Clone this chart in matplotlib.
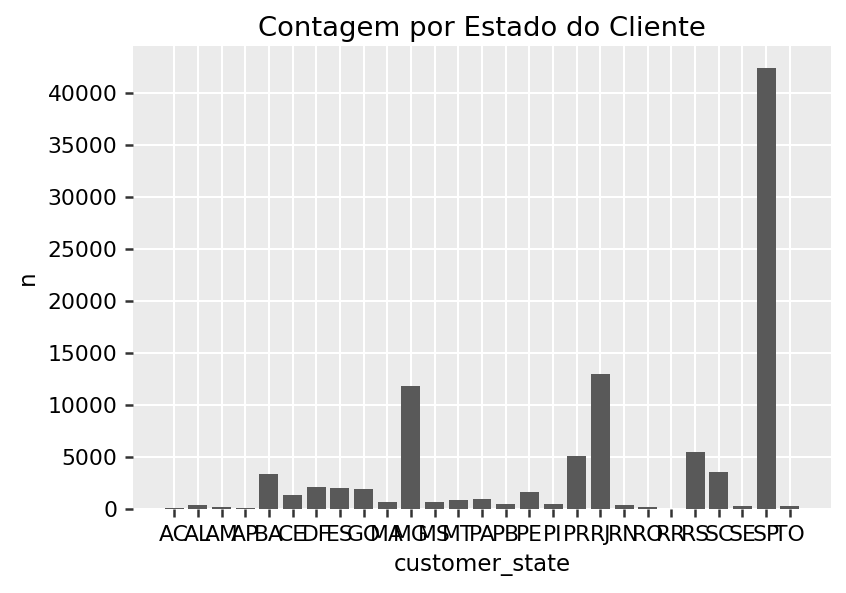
import numpy as np
import matplotlib
matplotlib.use("Agg")
import matplotlib.pyplot as plt

# contagem de clientes por estado
states = ['AC', 'AL', 'AM', 'AP', 'BA', 'CE', 'DF', 'ES', 'GO', 'MA', 'MG', 'MS',
          'MT', 'PA', 'PB', 'PE', 'PI', 'PR', 'RJ', 'RN', 'RO', 'RR', 'RS', 'SC',
          'SE', 'SP', 'TO']
counts = [80, 400, 150, 70, 3390, 1300, 2080, 1980, 1970, 720, 11800, 700,
          820, 920, 520, 1600, 440, 5060, 12980, 430, 230, 45, 5530, 3600,
          300, 42450, 260]

plt.rcParams['font.family'] = ['DejaVu Sans']

fig = plt.figure(figsize=(846/150, 593/150), dpi=150)
ax = fig.add_axes([133/846, 1 - 509/593, 698/846, 463/593])

ax.set_facecolor('#EBEBEB')
for s in ax.spines.values():
    s.set_visible(False)
ax.set_axisbelow(True)
ax.grid(True, color='white', linewidth=1.0)

x = np.arange(len(states))
ax.bar(x, counts, width=0.8, color='#595959')
ax.set_xticks(x)
ax.set_xticklabels(states)
ax.set_yticks(np.arange(0, 45000, 5000))

ax.tick_params(axis='both', labelsize=10.5, color='#333333', length=4, width=1.2,
               labelcolor='black')

ax.set_title('Contagem por Estado do Cliente', fontsize=13.2, pad=5)
ax.set_xlabel('customer_state', fontsize=11)
ax.set_ylabel('n', fontsize=11)

fig.savefig('out.png', dpi=150)
